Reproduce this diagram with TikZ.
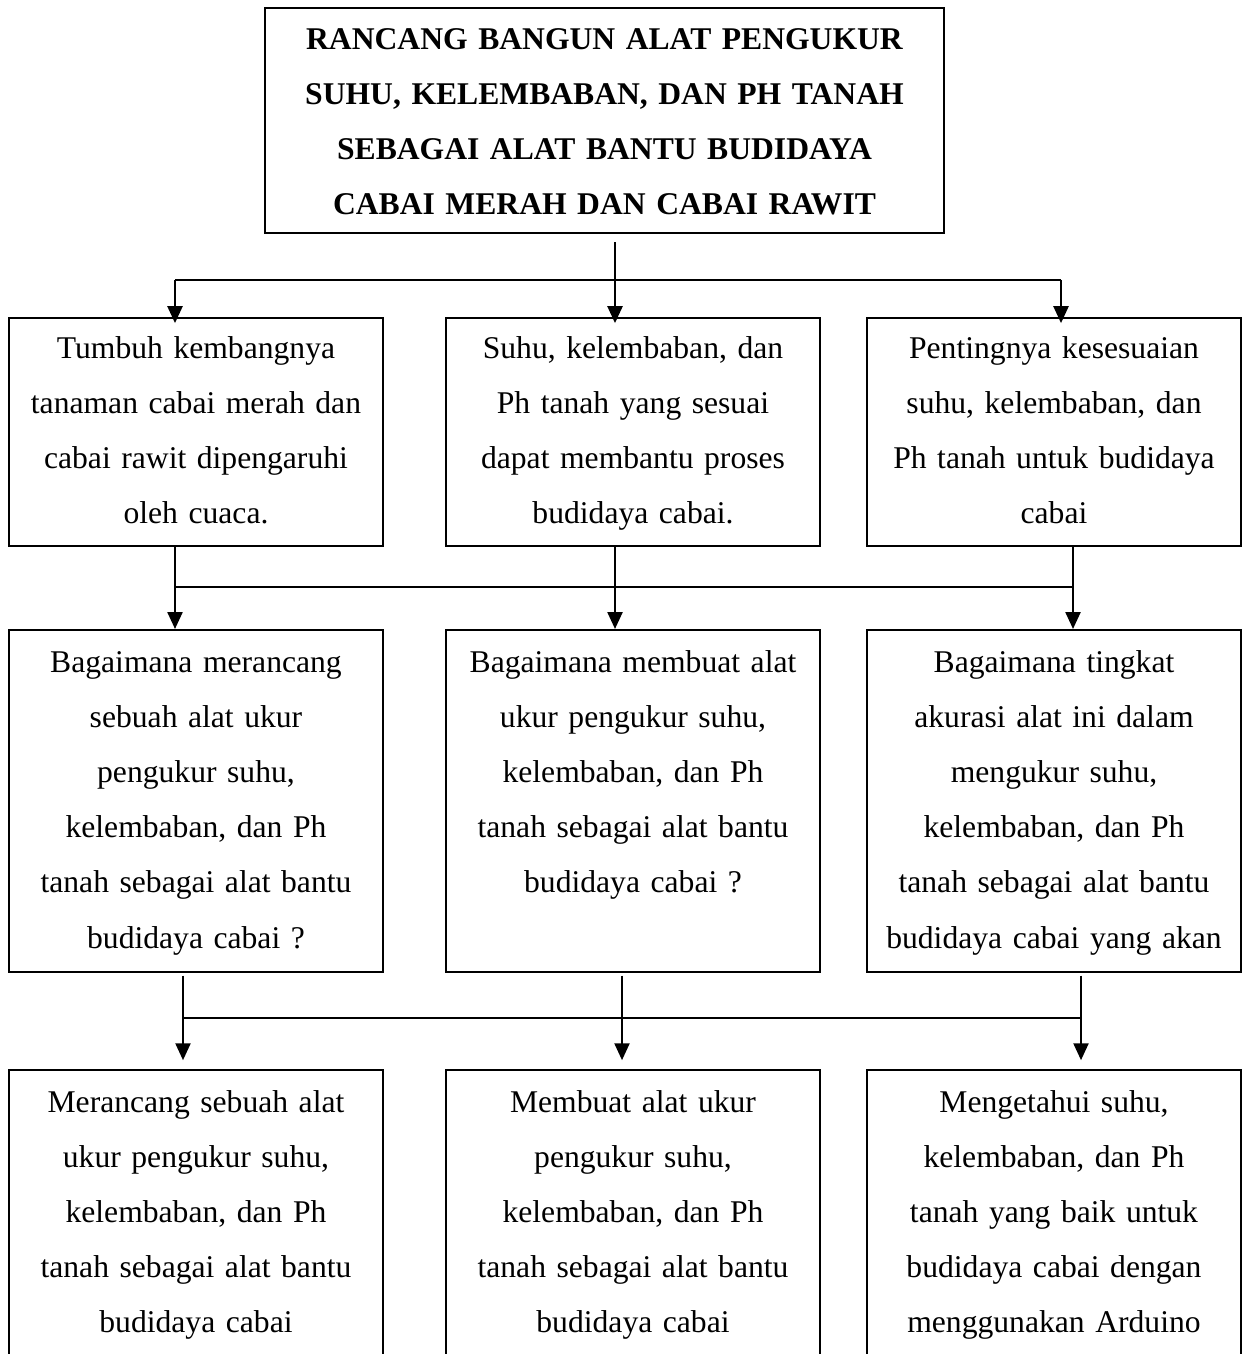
\documentclass[tikz,border=0pt]{standalone}
\usepackage{fontspec}
\setmainfont{Liberation Serif}
\usepackage{tikz}
\usetikzlibrary{arrows.meta,calc}
\newcommand\boxstrut{\rule[-10.5pt]{0pt}{31.4pt}}

\begin{document}
\begin{tikzpicture}[
  x=0.02cm, y=-0.02cm,
  box/.style={draw=black, line width=1.2pt, align=center, inner sep=0pt,
    font=\fontsize{18}{31.4}\selectfont, text width=7.2cm, minimum width=7.48cm,
    execute at begin node=\boxstrut, execute at end node=\boxstrut},
  rbox/.style={box, minimum height=4.56cm},
  qbox/.style={box, minimum height=6.84cm},
  tbox/.style={box, font=\fontsize{18}{31.4}\selectfont\bfseries, text width=13.3cm,
    minimum width=13.58cm, minimum height=4.5cm,
    execute at begin node=\rule{0pt}{23.7pt}, execute at end node=\rule[-7.7pt]{0pt}{7.7pt}},
  line/.style={line width=1.3pt, black},
  arr/.style={line, -{Triangle[length=9.6pt,width=8.5pt]}}
]
\useasboundingbox (0,0) rectangle (1248,1354);
\node[tbox] (title) at (604.5,120.5) {RANCANG BANGUN ALAT PENGUKUR\\SUHU, KELEMBABAN, DAN PH TANAH\\SEBAGAI ALAT BANTU BUDIDAYA\\CABAI MERAH DAN CABAI RAWIT};

\node[rbox] (left1)  at (196,432)  {Tumbuh kembangnya\\tanaman cabai merah dan\\cabai rawit dipengaruhi\\oleh cuaca.};
\node[rbox] (mid1)   at (633,432)  {Suhu, kelembaban, dan\\Ph tanah yang sesuai\\dapat membantu proses\\budidaya cabai.};
\node[rbox] (right1) at (1054,432) {Pentingnya kesesuaian\\suhu, kelembaban, dan\\Ph tanah untuk budidaya\\cabai};

\node[qbox] (left2)  at (196,801)  {Bagaimana merancang\\sebuah alat ukur\\pengukur suhu,\\kelembaban, dan Ph\\tanah sebagai alat bantu\\budidaya cabai ?};
\node[qbox] (mid2)   at (633,801)  {Bagaimana membuat alat\\ukur pengukur suhu,\\kelembaban, dan Ph\\tanah sebagai alat bantu\\budidaya cabai ?\\};
\node[qbox] (right2) at (1054,801) {Bagaimana tingkat\\akurasi alat ini dalam\\mengukur suhu,\\kelembaban, dan Ph\\tanah sebagai alat bantu\\budidaya cabai yang akan};

\node[qbox] (left3)  at (196,1241)  {Merancang sebuah alat\\ukur pengukur suhu,\\kelembaban, dan Ph\\tanah sebagai alat bantu\\budidaya cabai\\};
\node[qbox] (mid3)   at (633,1241)  {Membuat alat ukur\\pengukur suhu,\\kelembaban, dan Ph\\tanah sebagai alat bantu\\budidaya cabai\\};
\node[qbox] (right3) at (1054,1241) {Mengetahui suhu,\\kelembaban, dan Ph\\tanah yang baik untuk\\budidaya cabai dengan\\menggunakan Arduino\\};

\coordinate (j0l) at (175,280);
\coordinate (j0m) at (615,280);
\coordinate (j0r) at (1061,280);
\draw[arr] ([yshift=-4.5pt]title.south -| j0m) -- ([yshift=-3.5pt]mid1.north -| j0m);
\draw[line] (j0l) -- (j0r);
\draw[arr] (j0l) -- ([yshift=-3.5pt]left1.north -| j0l);
\draw[arr] (j0r) -- ([yshift=-3.5pt]right1.north -| j0r);

\coordinate (j1l) at (175,587);
\coordinate (j1m) at (615,587);
\coordinate (j1r) at (1073,587);
\draw[arr] (left1.south -| j1l) -- (left2.north -| j1l);
\draw[arr] (mid1.south -| j1m) -- (mid2.north -| j1m);
\draw[arr] (right1.south -| j1r) -- (right2.north -| j1r);
\draw[line] (j1l) -- (j1r);

\coordinate (j2l) at (183,1018);
\coordinate (j2m) at (622,1018);
\coordinate (j2r) at (1081,1018);
\draw[arr] ([yshift=-1.5pt]left2.south -| j2l) -- ([yshift=5pt]left3.north -| j2l);
\draw[arr] ([yshift=-1.5pt]mid2.south -| j2m) -- ([yshift=5pt]mid3.north -| j2m);
\draw[arr] ([yshift=-1.5pt]right2.south -| j2r) -- ([yshift=5pt]right3.north -| j2r);
\draw[line] (j2l) -- (j2r);
\end{tikzpicture}
\end{document}
